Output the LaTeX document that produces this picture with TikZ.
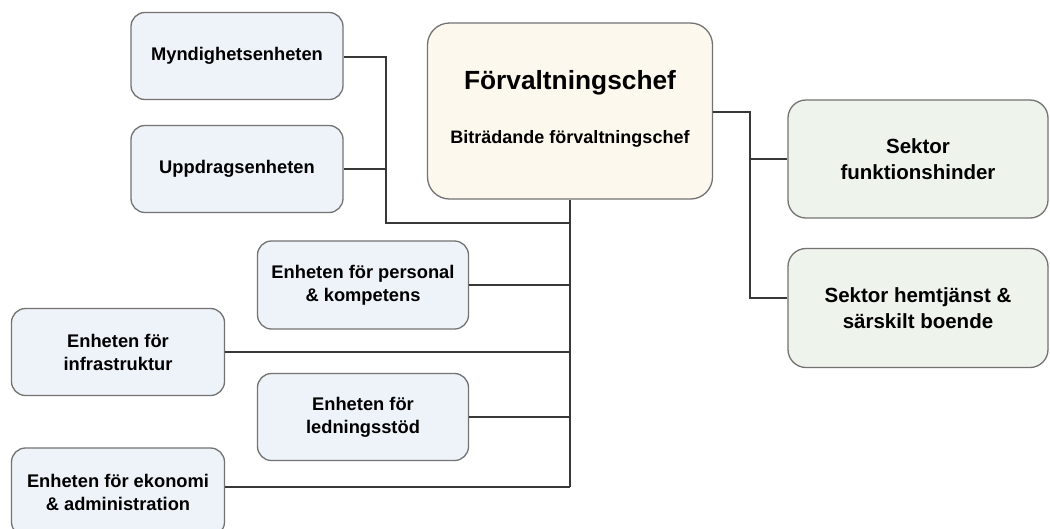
\documentclass[tikz,border=0pt]{standalone}
\usepackage{fontspec}
\setmainfont{Liberation Sans}
\begin{document}
\begin{tikzpicture}[x=1pt,y=-1pt,
  unit/.style={draw=black!55, line width=1.3pt, rounded corners=14pt, fill=unitblue, align=center, font=\bfseries\fontsize{18.3}{23}\selectfont, inner sep=0pt},
  chief/.style={draw=black!55, line width=1.3pt, rounded corners=22pt, fill=chiefcream, align=center, inner sep=0pt},
  sector/.style={draw=black!55, line width=1.3pt, rounded corners=18pt, fill=sectgreen, align=center, font=\bfseries\fontsize{20.5}{26}\selectfont, inner sep=0pt},
  link/.style={draw=black!78, line width=1.6pt}
]
\definecolor{unitblue}{HTML}{EEF3F9}
\definecolor{chiefcream}{HTML}{FDF8EE}
\definecolor{sectgreen}{HTML}{EEF3EB}
\useasboundingbox (0,0) rectangle (1050,528);
\fill[white] (0,0) rectangle (1050,528);

\node[chief, minimum width=285pt, minimum height=176pt] (chef) at (570,111) {};
\node[font=\bfseries\fontsize{26.3}{30}\selectfont] (cheft) at (570,83) {Förvaltningschef};
\node[font=\bfseries\fontsize{18}{22}\selectfont] (chefs) at (570,139) {Biträdande förvaltningschef};

\node[unit, minimum width=212pt, minimum height=87pt] (mynd) at (237,56) {Myndighetsenheten};
\node[unit, minimum width=212pt, minimum height=87pt] (uppd) at (237,169) {Uppdragsenheten};
\node[unit, minimum width=211pt, minimum height=88pt] (pers) at (363,285) {Enheten för personal\\\& kompetens};
\node[unit, minimum width=213pt, minimum height=87pt] (infra) at (118,352) {Enheten för\\infrastruktur};
\node[unit, minimum width=211pt, minimum height=87pt] (led) at (363,417) {Enheten för\\ledningsstöd};
\node[unit, minimum width=213pt, minimum height=88pt] (eko) at (118,492) {Enheten för ekonomi\\\& administration};

\node[sector, minimum width=260pt, minimum height=118pt] (sfh) at (918,159) {Sektor\\funktionshinder};
\node[sector, minimum width=260pt, minimum height=119pt] (shb) at (918,308) {Sektor hemtjänst \&\\särskilt boende};

\coordinate (tb) at (570,487);
\coordinate (ja) at (386,57);
\coordinate (jb) at (386,223);
\coordinate (ra) at (750,112);
\coordinate (rb) at (750,298);

\draw[link] (chef.south) -- (tb);
\draw[link] (mynd.east |- ja) -- (ja) -- (jb) -- (jb -| chef.south);
\draw[link] (uppd.east) -- (uppd.east -| ja);
\draw[link] (pers.east) -- (pers.east -| tb);
\draw[link] (infra.east) -- (infra.east -| tb);
\draw[link] (led.east) -- (led.east -| tb);
\draw[link] (eko.east |- tb) -- (tb);

\draw[link] (chef.east |- ra) -- (ra) -- (rb) -- (rb -| shb.west);
\draw[link] (sfh.west -| ra) -- (sfh.west);
\end{tikzpicture}
\end{document}
